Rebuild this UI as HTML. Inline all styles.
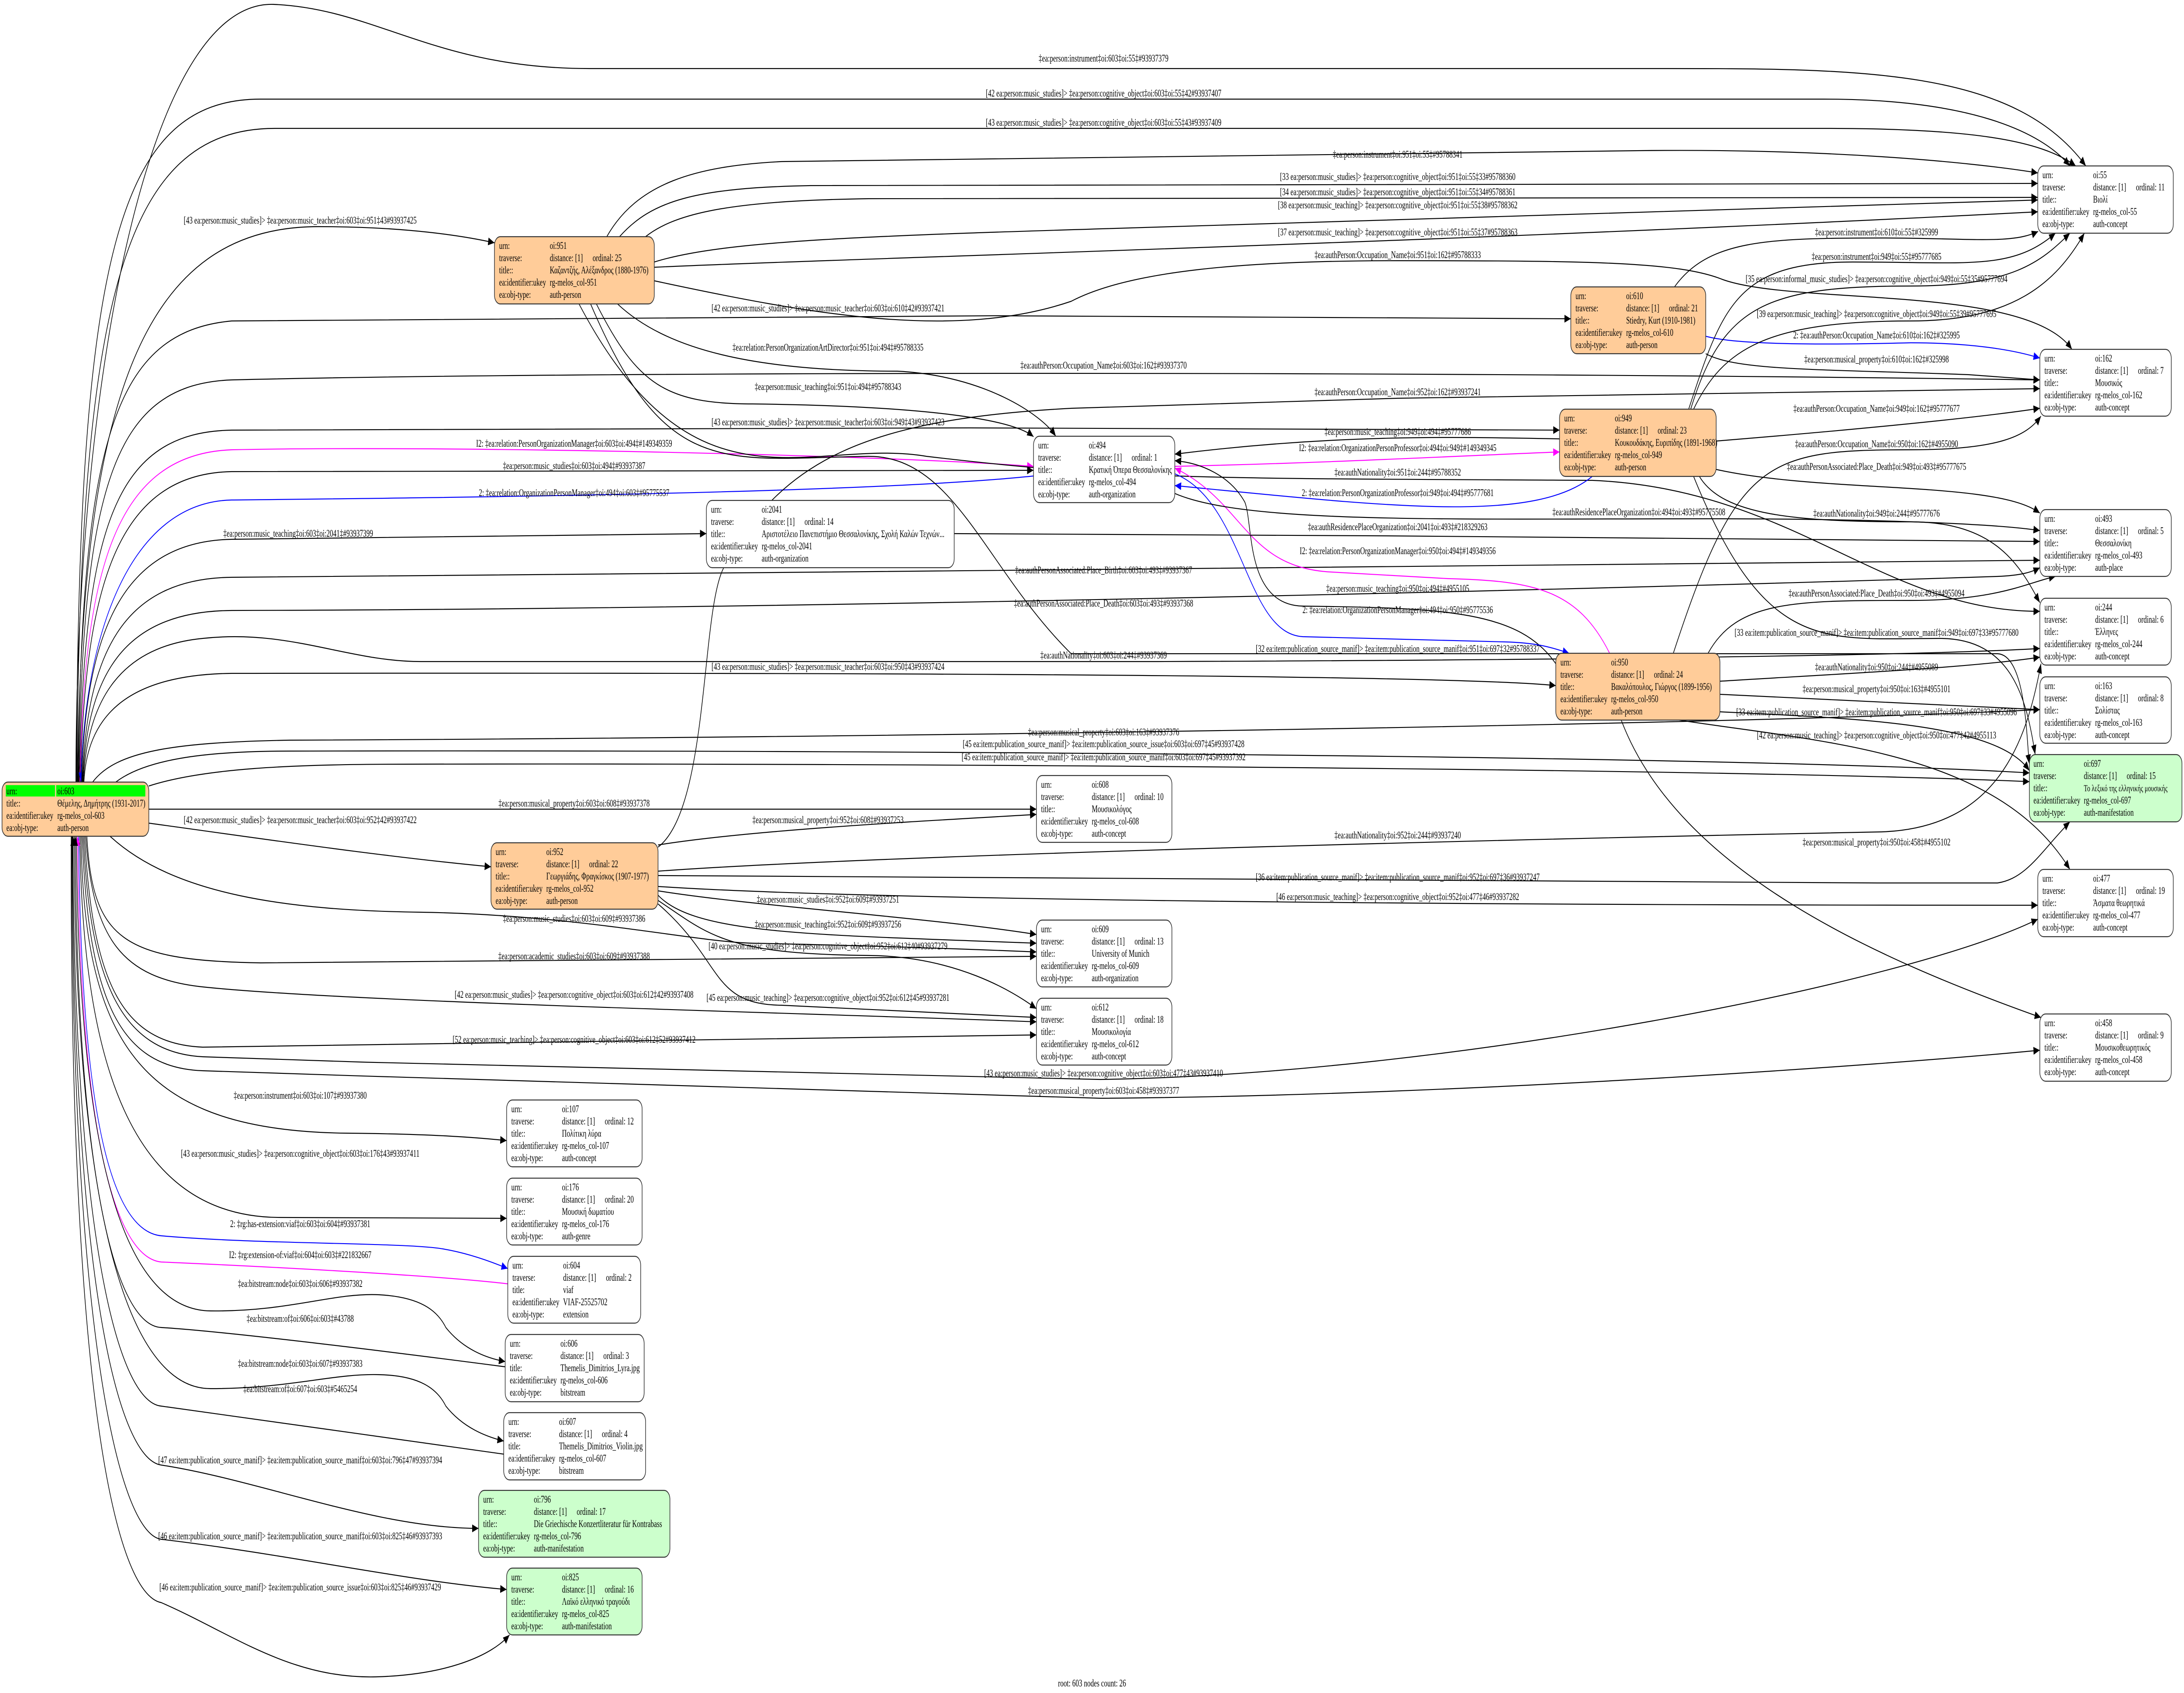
<!DOCTYPE html>
<html><head><meta charset="utf-8">
<style>
html,body{margin:0;padding:0;background:#fff;width:100%;height:100%;overflow:hidden;}
svg{display:block;position:absolute;left:0;top:0;width:100vw;height:100vh;}
text{font-family:"Liberation Serif","DejaVu Serif",serif;font-size:23px;fill:#000;}
.l{text-anchor:middle;}
.e{fill:none;stroke:#000;stroke-width:2.2;marker-end:url(#ab);}
.eb{fill:none;stroke:#0000ff;stroke-width:2.2;marker-end:url(#abl);}
.em{fill:none;stroke:#ff00ff;stroke-width:2.2;marker-end:url(#am);}
.n{stroke:#333;stroke-width:2.2;}
.w{fill:#fff;}.o{fill:#ffcc99;}.g{fill:#ccffcc;}
</style></head><body>
<svg viewBox="0 0 7544 3877" preserveAspectRatio="none" xmlns="http://www.w3.org/2000/svg" overflow="hidden">
<defs>
<marker id="ab" markerUnits="userSpaceOnUse" markerWidth="24" markerHeight="18" refX="22" refY="9" orient="auto"><path d="M0,0 L22,9 L0,18 z" fill="#000"/></marker>
<marker id="abl" markerUnits="userSpaceOnUse" markerWidth="24" markerHeight="18" refX="22" refY="9" orient="auto"><path d="M0,0 L22,9 L0,18 z" fill="#0000ff"/></marker>
<marker id="am" markerUnits="userSpaceOnUse" markerWidth="24" markerHeight="18" refX="22" refY="9" orient="auto"><path d="M0,0 L22,9 L0,18 z" fill="#ff00ff"/></marker>
</defs>
<rect width="7544" height="3877" fill="#fff"/>

<path class="e" d="M262,1791 C262,900 500,0 945,10 C1300,20 1500,157 2036,157 L5661,157 C6400,157 6950,150 7205,380"/>
<text class="l" x="3812" y="141">‡ea:person:instrument‡oi:603‡oi:55‡#93937379</text>
<path class="e" d="M264,1791 C270,600 400,227 900,227 L6300,227 C6800,227 7050,300 7150,380"/>
<text class="l" x="3812" y="221">[42 ea:person:music_studies]&gt; ‡ea:person:cognitive_object‡oi:603‡oi:55‡42#93937407</text>
<path class="e" d="M266,1791 C275,700 420,294 950,294 L6300,294 C6800,294 7050,320 7170,380"/>
<text class="l" x="3812" y="288">[43 ea:person:music_studies]&gt; ‡ea:person:cognitive_object‡oi:603‡oi:55‡43#93937409</text>
<path class="e" d="M268,1791 C280,900 500,519 1100,519 C1400,519 1600,540 1708,556"/>
<text class="l" x="1037" y="512">[43 ea:person:music_studies]&gt; ‡ea:person:music_teacher‡oi:603‡oi:951‡43#93937425</text>
<path class="e" d="M270,1791 C280,1000 400,760 800,735 C2000,720 4000,720 5426,730"/>
<text class="l" x="2860" y="713">[42 ea:person:music_studies]&gt; ‡ea:person:music_teacher‡oi:603‡oi:610‡42#93937421</text>
<path class="e" d="M272,1791 C285,1100 400,880 800,870 C2000,850 5000,850 7046,870"/>
<text class="l" x="3812" y="844">‡ea:authPerson:Occupation_Name‡oi:603‡oi:162‡#93937370</text>
<path class="e" d="M274,1791 C290,1200 400,990 800,985 C2000,978 4000,978 5387,985"/>
<text class="l" x="2860" y="974">[43 ea:person:music_studies]&gt; ‡ea:person:music_teacher‡oi:603‡oi:949‡43#93937423</text>
<path class="em" d="M276,1791 C290,1300 400,1040 800,1030 C1500,1020 3000,1040 3570,1068"/>
<text class="l" x="1983" y="1023">I2: ‡ea:relation:PersonOrganizationManager‡oi:603‡oi:494‡#149349359</text>
<path class="e" d="M278,1791 C292,1350 400,1085 800,1080 L3570,1077"/>
<text class="l" x="1983" y="1074">‡ea:person:music_studies‡oi:603‡oi:494‡#93937387</text>
<path class="eb" d="M3570,1090 C3000,1130 1500,1140 800,1145 C450,1150 290,1450 280,1791"/>
<text class="l" x="1983" y="1136">2: ‡ea:relation:OrganizationPersonManager‡oi:494‡oi:603‡#95775537</text>
<path class="e" d="M282,1791 C295,1450 420,1240 800,1235 C1500,1228 2100,1222 2440,1222"/>
<text class="l" x="1030" y="1229">‡ea:person:music_teaching‡oi:603‡oi:2041‡#93937399</text>
<path class="e" d="M284,1791 C300,1500 420,1325 800,1322 C3000,1310 6000,1290 7046,1283"/>
<text class="l" x="3812" y="1313">‡ea:authPersonAssociated:Place_Birth‡oi:603‡oi:493‡#93937367</text>
<path class="e" d="M286,1791 C300,1550 420,1400 800,1398 C3000,1395 6000,1340 6900,1320 C6980,1318 7020,1310 7046,1300"/>
<text class="l" x="3812" y="1389">‡ea:authPersonAssociated:Place_Death‡oi:603‡oi:493‡#93937368</text>
<path class="e" d="M288,1791 C300,1600 420,1480 700,1462 C1000,1440 1200,1515 1454,1515 L4000,1515 C6000,1510 6800,1495 7046,1485"/>
<text class="l" x="3812" y="1508">‡ea:authNationality‡oi:603‡oi:244‡#93937369</text>
<path class="e" d="M290,1791 C300,1650 420,1545 800,1542 C3000,1540 5000,1545 5374,1570"/>
<text class="l" x="2860" y="1534">[43 ea:person:music_studies]&gt; ‡ea:person:music_teacher‡oi:603‡oi:950‡43#93937424</text>
<path class="e" d="M320,1791 C400,1720 600,1700 1000,1695 C3000,1690 6000,1660 7046,1625"/>
<text class="l" x="3812" y="1684">‡ea:person:musical_property‡oi:603‡oi:163‡#93937376</text>
<path class="e" d="M400,1791 C500,1740 700,1720 1000,1720 C3000,1717 6000,1730 7010,1770"/>
<text class="l" x="3812" y="1711">[45 ea:item:publication_source_manif]&gt; ‡ea:item:publication_source_issue‡oi:603‡oi:697‡45#93937428</text>
<path class="e" d="M514,1800 C700,1760 1000,1750 1400,1750 C3000,1747 6000,1760 7010,1790"/>
<text class="l" x="3812" y="1741">[45 ea:item:publication_source_manif]&gt; ‡ea:item:publication_source_manif‡oi:603‡oi:697‡45#93937392</text>
<path class="e" d="M514,1853 L3580,1853"/>
<text class="l" x="1983" y="1847">‡ea:person:musical_property‡oi:603‡oi:608‡#93937378</text>
<path class="e" d="M514,1885 C900,1920 1300,1960 1696,1985"/>
<text class="l" x="1037" y="1885">[42 ea:person:music_studies]&gt; ‡ea:person:music_teacher‡oi:603‡oi:952‡42#93937422</text>
<path class="e" d="M380,1915 C600,2050 1000,2085 1454,2089 C2000,2095 2400,2157 2600,2160 C3000,2165 3400,2175 3580,2180"/>
<text class="l" x="1983" y="2111">‡ea:person:music_studies‡oi:603‡oi:609‡#93937386</text>
<path class="e" d="M300,1915 C320,2150 420,2200 900,2205 L3580,2190"/>
<text class="l" x="1983" y="2197">‡ea:person:academic_studies‡oi:603‡oi:609‡#93937388</text>
<path class="e" d="M296,1915 C320,2150 420,2240 700,2260 C1200,2295 2800,2320 3580,2340"/>
<text class="l" x="1983" y="2285">[42 ea:person:music_studies]&gt; ‡ea:person:cognitive_object‡oi:603‡oi:612‡42#93937408</text>
<path class="e" d="M292,1915 C320,2250 420,2390 700,2398 L3580,2370"/>
<text class="l" x="1983" y="2388">[52 ea:person:music_teaching]&gt; ‡ea:person:cognitive_object‡oi:603‡oi:612‡52#93937412</text>
<path class="e" d="M288,1915 C310,2250 420,2410 700,2420 C2000,2450 3500,2475 3800,2472 C5000,2460 6600,2250 7039,2105"/>
<text class="l" x="3812" y="2465">[43 ea:person:music_studies]&gt; ‡ea:person:cognitive_object‡oi:603‡oi:477‡43#93937410</text>
<path class="e" d="M284,1915 C305,2300 420,2445 700,2452 C2000,2480 3500,2515 3800,2515 C5000,2510 6500,2440 7046,2405"/>
<text class="l" x="3812" y="2505">‡ea:person:musical_property‡oi:603‡oi:458‡#93937377</text>
<path class="e" d="M280,1915 C290,2400 500,2590 1200,2595 C1500,2597 1650,2605 1750,2612"/>
<text class="l" x="1037" y="2516">‡ea:person:instrument‡oi:603‡oi:107‡#93937380</text>
<path class="e" d="M276,1915 C285,2500 500,2788 969,2788 L1750,2790"/>
<text class="l" x="1037" y="2649">[43 ea:person:music_studies]&gt; ‡ea:person:cognitive_object‡oi:603‡oi:176‡43#93937411</text>
<path class="eb" d="M272,1915 C280,2600 400,2820 557,2830 C900,2850 1400,2845 1530,2860 C1620,2870 1700,2890 1754,2905"/>
<text class="l" x="1037" y="2810">2: ‡rg:has-extension:viaf‡oi:603‡oi:604‡#93937381</text>
<path class="em" d="M1754,2940 C1500,2920 900,2900 557,2890 C400,2880 275,2600 268,1915"/>
<text class="l" x="1037" y="2881">I2: ‡rg:extension-of:viaf‡oi:604‡oi:603‡#221832667</text>
<path class="e" d="M264,1915 C270,2700 450,3000 727,3002 C1000,3004 1150,2960 1309,2965 C1450,2970 1510,3000 1540,3040 C1600,3090 1680,3110 1745,3118"/>
<text class="l" x="1037" y="2947">‡ea:bitstream:node‡oi:603‡oi:606‡#93937382</text>
<path class="e" d="M1745,3130 C1400,3100 800,3050 557,3040 C400,3035 265,2700 260,1915"/>
<text class="l" x="1037" y="3027">‡ea:bitstream:of‡oi:606‡oi:603‡#43788</text>
<path class="e" d="M256,1915 C260,2800 450,3180 727,3180 C1000,3180 1150,3145 1309,3148 C1450,3150 1510,3180 1540,3220 C1600,3270 1680,3290 1740,3300"/>
<text class="l" x="1037" y="3130">‡ea:bitstream:node‡oi:603‡oi:607‡#93937383</text>
<path class="e" d="M1740,3330 C1400,3300 800,3240 557,3220 C400,3210 255,2800 252,1915"/>
<text class="l" x="1037" y="3188">‡ea:bitstream:of‡oi:607‡oi:603‡#5465254</text>
<path class="e" d="M250,1915 C250,2900 400,3340 557,3355 C900,3390 1300,3500 1653,3500"/>
<text class="l" x="1037" y="3351">[47 ea:item:publication_source_manif]&gt; ‡ea:item:publication_source_manif‡oi:603‡oi:796‡47#93937394</text>
<path class="e" d="M248,1915 C245,3000 400,3510 557,3525 C1000,3560 1400,3620 1750,3640"/>
<text class="l" x="1037" y="3525">[46 ea:item:publication_source_manif]&gt; ‡ea:item:publication_source_manif‡oi:603‡oi:825‡46#93937393</text>
<path class="e" d="M246,1915 C240,3200 400,3650 557,3670 C800,3740 1000,3845 1300,3840 C1550,3835 1700,3790 1760,3744"/>
<text class="l" x="1037" y="3642">[46 ea:item:publication_source_manif]&gt; ‡ea:item:publication_source_issue‡oi:603‡oi:825‡46#93937429</text>

<path class="e" d="M2096,542 C2200,420 2400,380 2700,370 C3500,355 4500,360 5661,345 C6300,340 6800,370 7039,396"/>
<text class="l" x="4828" y="361">‡ea:person:instrument‡oi:951‡oi:55‡#95788341</text>
<path class="e" d="M2140,542 C2250,460 2400,430 2800,425 L7039,420"/>
<text class="l" x="4828" y="412">[33 ea:person:music_studies]&gt; ‡ea:person:cognitive_object‡oi:951‡oi:55‡33#95788360</text>
<path class="e" d="M2200,560 C2300,490 2500,460 3000,455 L7039,452"/>
<text class="l" x="4828" y="447">[34 ea:person:music_studies]&gt; ‡ea:person:cognitive_object‡oi:951‡oi:55‡34#95788361</text>
<path class="e" d="M2260,600 C2500,550 3000,540 4000,520 C5500,495 6500,470 7039,458"/>
<text class="l" x="4828" y="477">[38 ea:person:music_teaching]&gt; ‡ea:person:cognitive_object‡oi:951‡oi:55‡38#95788362</text>
<path class="e" d="M2260,612 C3000,590 5000,555 7039,485"/>
<text class="l" x="4828" y="539">[37 ea:person:music_teaching]&gt; ‡ea:person:cognitive_object‡oi:951‡oi:55‡37#95788363</text>
<path class="e" d="M2260,643 C2800,720 3300,780 3700,690 C3900,620 4300,597 4828,597 C5500,597 5800,600 5950,640 C6200,700 7000,650 7157,800"/>
<text class="l" x="4828" y="591">‡ea:authPerson:Occupation_Name‡oi:951‡oi:162‡#95788333</text>
<path class="e" d="M2133,696 C2300,800 2600,850 3100,850 C3400,860 3600,950 3647,999"/>
<text class="l" x="2860" y="803">‡ea:relation:PersonOrganizationArtDirector‡oi:951‡oi:494‡#95788335</text>
<path class="e" d="M2060,696 C2200,880 2300,925 2600,925 C3200,930 3500,960 3570,1000"/>
<text class="l" x="2860" y="893">‡ea:person:music_teaching‡oi:951‡oi:494‡#95788343</text>
<path class="e" d="M2040,696 C2300,1100 2500,1050 3000,1045 C3300,1045 3400,1300 3700,1497 L6900,1497 C7000,1500 7000,1700 7010,1750"/>
<text class="l" x="4828" y="1493">[32 ea:item:publication_source_manif]&gt; ‡ea:item:publication_source_manif‡oi:951‡oi:697‡32#95788337</text>
<path class="e" d="M2000,696 C2400,1200 2800,1000 3200,1045 C3900,1100 4200,1095 5500,1100 C6200,1120 6500,1400 7046,1400"/>
<text class="l" x="4828" y="1089">‡ea:authNationality‡oi:951‡oi:244‡#95788352</text>

<path class="e" d="M5784,657 C5900,550 6100,545 6500,545 C6800,545 6950,560 7040,530"/>
<text class="l" x="6482" y="539">‡ea:person:instrument‡oi:610‡oi:55‡#325999</text>
<path class="eb" d="M5892,770 C6000,790 6300,790 6600,785 C6800,785 6950,800 7046,820"/>
<text class="l" x="6482" y="775">2: ‡ea:authPerson:Occupation_Name‡oi:610‡oi:162‡#325995</text>
<path class="e" d="M5892,810 C6000,850 6300,845 6800,858 L7046,870"/>
<text class="l" x="6482" y="830">‡ea:person:musical_property‡oi:610‡oi:162‡#325998</text>

<path class="e" d="M5833,937 C5950,700 6000,600 6400,600 C6800,600 6950,620 7100,534"/>
<text class="l" x="6482" y="595">‡ea:person:instrument‡oi:949‡oi:55‡#95777685</text>
<path class="e" d="M5840,937 C5950,700 6100,655 6600,655 C6950,655 7050,600 7150,534"/>
<text class="l" x="6482" y="646">[35 ea:person:informal_music_studies]&gt; ‡ea:person:cognitive_object‡oi:949‡oi:55‡35#95777694</text>
<path class="e" d="M5850,937 C5950,800 6100,735 6600,735 C6950,735 7100,650 7200,534"/>
<text class="l" x="6482" y="726">[39 ea:person:music_teaching]&gt; ‡ea:person:cognitive_object‡oi:949‡oi:55‡39#95777695</text>
<path class="e" d="M5387,1005 C5000,1000 4600,995 4058,1040"/>
<text class="l" x="4828" y="996">‡ea:person:music_teaching‡oi:949‡oi:494‡#95777686</text>
<path class="em" d="M4058,1068 C4600,1060 5000,1045 5387,1035"/>
<text class="l" x="4828" y="1033">I2: ‡ea:relation:OrganizationPersonProfessor‡oi:494‡oi:949‡#149349345</text>
<path class="eb" d="M5500,1091 C5300,1200 4800,1160 4058,1112"/>
<text class="l" x="4828" y="1136">2: ‡ea:relation:PersonOrganizationProfessor‡oi:949‡oi:494‡#95777681</text>
<path class="e" d="M5928,1010 C6300,990 6800,960 7046,935"/>
<text class="l" x="6482" y="943">‡ea:authPerson:Occupation_Name‡oi:949‡oi:162‡#95777677</text>
<path class="e" d="M5928,1075 C6300,1130 6900,1100 7046,1175"/>
<text class="l" x="6482" y="1076">‡ea:authPersonAssociated:Place_Death‡oi:949‡oi:493‡#95777675</text>
<path class="e" d="M5870,1091 C5950,1180 6200,1195 6600,1195 C6900,1195 6980,1300 7046,1380"/>
<text class="l" x="6482" y="1183">‡ea:authNationality‡oi:949‡oi:244‡#95777676</text>
<path class="e" d="M5850,1091 C6100,1500 6300,1462 6700,1462 C6950,1462 7000,1600 7030,1728"/>
<text class="l" x="6482" y="1456">[33 ea:item:publication_source_manif]&gt; ‡ea:item:publication_source_manif‡oi:949‡oi:697‡33#95777680</text>

<path class="e" d="M5780,1496 C6000,1050 6100,1030 6600,1030 C6900,1030 7000,1000 7050,953"/>
<text class="l" x="6482" y="1024">‡ea:authPerson:Occupation_Name‡oi:950‡oi:162‡#4955090</text>
<path class="e" d="M5900,1496 C6000,1375 6200,1375 6600,1375 C6900,1375 7000,1335 7100,1320"/>
<text class="l" x="6482" y="1366">‡ea:authPersonAssociated:Place_Death‡oi:950‡oi:493‡#4955094</text>
<path class="e" d="M5941,1560 C6300,1545 6800,1530 7046,1505"/>
<text class="l" x="6482" y="1535">‡ea:authNationality‡oi:950‡oi:244‡#4955089</text>
<path class="e" d="M5941,1590 C6300,1600 6800,1620 7046,1625"/>
<text class="l" x="6482" y="1585">‡ea:person:musical_property‡oi:950‡oi:163‡#4955101</text>
<path class="e" d="M5941,1630 C6400,1645 6900,1655 7010,1765"/>
<text class="l" x="6482" y="1638">[33 ea:item:publication_source_manif]&gt; ‡ea:item:publication_source_manif‡oi:950‡oi:697‡33#4955096</text>
<path class="e" d="M5800,1649 C6300,1700 6900,1720 7150,1991"/>
<text class="l" x="6482" y="1691">[42 ea:person:music_teaching]&gt; ‡ea:person:cognitive_object‡oi:950‡oi:477‡42#4955113</text>
<path class="e" d="M5600,1649 C5800,2000 6500,2200 7050,2330"/>
<text class="l" x="6482" y="1936">‡ea:person:musical_property‡oi:950‡oi:458‡#4955102</text>
<path class="e" d="M5374,1520 C5250,1400 5000,1392 4500,1388 C4300,1385 4330,1200 4300,1150 C4250,1090 4150,1060 4058,1055"/>
<text class="l" x="4828" y="1355">‡ea:person:music_teaching‡oi:950‡oi:494‡#4955105</text>
<path class="eb" d="M4058,1085 C4300,1150 4300,1450 4500,1458 L5200,1470 C5300,1472 5350,1480 5420,1496"/>
<text class="l" x="4828" y="1404">2: ‡ea:relation:OrganizationPersonManager‡oi:494‡oi:950‡#95775536</text>
<path class="em" d="M5560,1496 C5450,1350 5300,1330 5000,1325 L4600,1310 C4300,1300 4300,1150 4058,1072"/>
<text class="l" x="4828" y="1269">I2: ‡ea:relation:PersonOrganizationManager‡oi:950‡oi:494‡#149349356</text>

<path class="e" d="M4058,1130 C4300,1200 5000,1188 5900,1188 C6500,1188 6900,1200 7046,1215"/>
<text class="l" x="5661" y="1180">‡ea:authResidencePlaceOrganization‡oi:494‡oi:493‡#95775508</text>
<path class="e" d="M3296,1222 C4500,1225 6000,1232 7046,1240"/>
<text class="l" x="4828" y="1214">‡ea:authResidencePlaceOrganization‡oi:2041‡oi:493‡#218329263</text>

<path class="e" d="M2273,1935 C2600,1900 3200,1880 3580,1865"/>
<text class="l" x="2860" y="1885">‡ea:person:musical_property‡oi:952‡oi:608‡#93937253</text>
<path class="e" d="M2273,1940 C2450,1850 2420,1400 2500,1300 C2700,1050 3000,960 3700,935 L4828,912 C6000,900 6800,890 7046,890"/>
<text class="l" x="4828" y="905">‡ea:authPerson:Occupation_Name‡oi:952‡oi:162‡#93937241</text>
<path class="e" d="M2273,1995 C3000,1960 5000,1925 6500,1905 C6900,1895 7000,1700 7050,1520"/>
<text class="l" x="4828" y="1920">‡ea:authNationality‡oi:952‡oi:244‡#93937240</text>
<path class="e" d="M2273,2005 C3000,2022 5000,2022 6900,2022 C7000,2012 7050,1950 7150,1882"/>
<text class="l" x="4828" y="2016">[36 ea:item:publication_source_manif]&gt; ‡ea:item:publication_source_manif‡oi:952‡oi:697‡36#93937247</text>
<path class="e" d="M2273,2030 C3000,2062 5000,2073 7039,2073"/>
<text class="l" x="4828" y="2061">[46 ea:person:music_teaching]&gt; ‡ea:person:cognitive_object‡oi:952‡oi:477‡46#93937282</text>
<path class="e" d="M2273,2040 C2600,2075 3200,2100 3580,2140"/>
<text class="l" x="2860" y="2067">‡ea:person:music_studies‡oi:952‡oi:609‡#93937251</text>
<path class="e" d="M2273,2050 C2400,2140 2800,2140 3580,2160"/>
<text class="l" x="2860" y="2124">‡ea:person:music_teaching‡oi:952‡oi:609‡#93937256</text>
<path class="e" d="M2273,2062 C2450,2140 2500,2185 3000,2188 C3300,2190 3500,2270 3580,2310"/>
<text class="l" x="2860" y="2174">[40 ea:person:music_studies]&gt; ‡ea:person:cognitive_object‡oi:952‡oi:612‡40#93937279</text>
<path class="e" d="M2273,2070 C2500,2200 2450,2300 2700,2302 L3580,2330"/>
<text class="l" x="2860" y="2292">[45 ea:person:music_teaching]&gt; ‡ea:person:cognitive_object‡oi:952‡oi:612‡45#93937281</text>

<rect class="n o" x="7" y="1791" width="507" height="124" rx="20"/>
<rect x="20" y="1798" width="170" height="26" fill="#00ff00"/>
<rect x="194" y="1798" width="308" height="26" fill="#00ff00"/>
<text x="22" y="1819">urn:</text><text x="198" y="1819">oi:603</text>
<text x="22" y="1847">title::</text><text x="198" y="1847">Θέμελης, Δημήτρης (1931-2017)</text>
<text x="22" y="1875">ea:identifier:ukey</text><text x="198" y="1875">rg-melos_col-603</text>
<text x="22" y="1903">ea:obj-type:</text><text x="198" y="1903">auth-person</text>

<rect class="n o" x="1708" y="542" width="552" height="154" rx="20"/>
<text x="1724" y="570">urn:</text><text x="1899" y="570">oi:951</text>
<text x="1724" y="598">traverse:</text><text x="1899" y="598">distance: [1]</text><text x="2047" y="598">ordinal: 25</text>
<text x="1724" y="626">title::</text><text x="1899" y="626">Καζαντζής, Αλέξανδρος (1880-1976)</text>
<text x="1724" y="654">ea:identifier:ukey</text><text x="1899" y="654">rg-melos_col-951</text>
<text x="1724" y="682">ea:obj-type:</text><text x="1899" y="682">auth-person</text>

<rect class="n w" x="7039" y="380" width="468" height="154" rx="20"/>
<text x="7055" y="408">urn:</text><text x="7230" y="408">oi:55</text>
<text x="7055" y="436">traverse:</text><text x="7230" y="436">distance: [1]</text><text x="7378" y="436">ordinal: 11</text>
<text x="7055" y="464">title::</text><text x="7230" y="464">Βιολί</text>
<text x="7055" y="492">ea:identifier:ukey</text><text x="7230" y="492">rg-melos_col-55</text>
<text x="7055" y="520">ea:obj-type:</text><text x="7230" y="520">auth-concept</text>

<rect class="n o" x="5426" y="657" width="466" height="153" rx="20"/>
<text x="5442" y="685">urn:</text><text x="5617" y="685">oi:610</text>
<text x="5442" y="713">traverse:</text><text x="5617" y="713">distance: [1]</text><text x="5765" y="713">ordinal: 21</text>
<text x="5442" y="741">title::</text><text x="5617" y="741">Stiedry, Kurt (1910-1981)</text>
<text x="5442" y="769">ea:identifier:ukey</text><text x="5617" y="769">rg-melos_col-610</text>
<text x="5442" y="797">ea:obj-type:</text><text x="5617" y="797">auth-person</text>

<rect class="n w" x="7046" y="800" width="454" height="153" rx="20"/>
<text x="7062" y="828">urn:</text><text x="7237" y="828">oi:162</text>
<text x="7062" y="856">traverse:</text><text x="7237" y="856">distance: [1]</text><text x="7385" y="856">ordinal: 7</text>
<text x="7062" y="884">title::</text><text x="7237" y="884">Μουσικός</text>
<text x="7062" y="912">ea:identifier:ukey</text><text x="7237" y="912">rg-melos_col-162</text>
<text x="7062" y="940">ea:obj-type:</text><text x="7237" y="940">auth-concept</text>

<rect class="n w" x="3570" y="999" width="488" height="152" rx="20"/>
<text x="3586" y="1027">urn:</text><text x="3761" y="1027">oi:494</text>
<text x="3586" y="1055">traverse:</text><text x="3761" y="1055">distance: [1]</text><text x="3909" y="1055">ordinal: 1</text>
<text x="3586" y="1083">title::</text><text x="3761" y="1083">Κρατική Όπερα Θεσσαλονίκης</text>
<text x="3586" y="1111">ea:identifier:ukey</text><text x="3761" y="1111">rg-melos_col-494</text>
<text x="3586" y="1139">ea:obj-type:</text><text x="3761" y="1139">auth-organization</text>

<rect class="n o" x="5387" y="937" width="541" height="154" rx="20"/>
<text x="5403" y="965">urn:</text><text x="5578" y="965">oi:949</text>
<text x="5403" y="993">traverse:</text><text x="5578" y="993">distance: [1]</text><text x="5726" y="993">ordinal: 23</text>
<text x="5403" y="1021">title::</text><text x="5578" y="1021">Κουκουδάκης, Ευριπίδης (1891-1968)</text>
<text x="5403" y="1049">ea:identifier:ukey</text><text x="5578" y="1049">rg-melos_col-949</text>
<text x="5403" y="1077">ea:obj-type:</text><text x="5578" y="1077">auth-person</text>

<rect class="n w" x="2440" y="1146" width="856" height="154" rx="20"/>
<text x="2456" y="1174">urn:</text><text x="2631" y="1174">oi:2041</text>
<text x="2456" y="1202">traverse:</text><text x="2631" y="1202">distance: [1]</text><text x="2779" y="1202">ordinal: 14</text>
<text x="2456" y="1230">title::</text><text x="2631" y="1230">Αριστοτέλειο Πανεπιστήμιο Θεσσαλονίκης, Σχολή Καλών Τεχνών...</text>
<text x="2456" y="1258">ea:identifier:ukey</text><text x="2631" y="1258">rg-melos_col-2041</text>
<text x="2456" y="1286">ea:obj-type:</text><text x="2631" y="1286">auth-organization</text>

<rect class="n w" x="7046" y="1167" width="454" height="153" rx="20"/>
<text x="7062" y="1195">urn:</text><text x="7237" y="1195">oi:493</text>
<text x="7062" y="1223">traverse:</text><text x="7237" y="1223">distance: [1]</text><text x="7385" y="1223">ordinal: 5</text>
<text x="7062" y="1251">title::</text><text x="7237" y="1251">Θεσσαλονίκη</text>
<text x="7062" y="1279">ea:identifier:ukey</text><text x="7237" y="1279">rg-melos_col-493</text>
<text x="7062" y="1307">ea:obj-type:</text><text x="7237" y="1307">auth-place</text>

<rect class="n w" x="7046" y="1370" width="454" height="153" rx="20"/>
<text x="7062" y="1398">urn:</text><text x="7237" y="1398">oi:244</text>
<text x="7062" y="1426">traverse:</text><text x="7237" y="1426">distance: [1]</text><text x="7385" y="1426">ordinal: 6</text>
<text x="7062" y="1454">title::</text><text x="7237" y="1454">Έλληνες</text>
<text x="7062" y="1482">ea:identifier:ukey</text><text x="7237" y="1482">rg-melos_col-244</text>
<text x="7062" y="1510">ea:obj-type:</text><text x="7237" y="1510">auth-concept</text>

<rect class="n o" x="5374" y="1496" width="567" height="153" rx="20"/>
<text x="5390" y="1524">urn:</text><text x="5565" y="1524">oi:950</text>
<text x="5390" y="1552">traverse:</text><text x="5565" y="1552">distance: [1]</text><text x="5713" y="1552">ordinal: 24</text>
<text x="5390" y="1580">title::</text><text x="5565" y="1580">Βακαλόπουλος, Γιώργος (1899-1956)</text>
<text x="5390" y="1608">ea:identifier:ukey</text><text x="5565" y="1608">rg-melos_col-950</text>
<text x="5390" y="1636">ea:obj-type:</text><text x="5565" y="1636">auth-person</text>

<rect class="n w" x="7046" y="1550" width="454" height="152" rx="20"/>
<text x="7062" y="1578">urn:</text><text x="7237" y="1578">oi:163</text>
<text x="7062" y="1606">traverse:</text><text x="7237" y="1606">distance: [1]</text><text x="7385" y="1606">ordinal: 8</text>
<text x="7062" y="1634">title::</text><text x="7237" y="1634">Σολίστας</text>
<text x="7062" y="1662">ea:identifier:ukey</text><text x="7237" y="1662">rg-melos_col-163</text>
<text x="7062" y="1690">ea:obj-type:</text><text x="7237" y="1690">auth-concept</text>

<rect class="n g" x="7010" y="1728" width="527" height="154" rx="20"/>
<text x="7024" y="1756">urn:</text><text x="7198" y="1756">oi:697</text>
<text x="7024" y="1784">traverse:</text><text x="7198" y="1784">distance: [1]</text><text x="7346" y="1784">ordinal: 15</text>
<text x="7024" y="1812">title::</text><text x="7198" y="1812" style="font-size:21px">Το λεξικό της ελληνικής μουσικής</text>
<text x="7024" y="1840">ea:identifier:ukey</text><text x="7198" y="1840">rg-melos_col-697</text>
<text x="7024" y="1868">ea:obj-type:</text><text x="7198" y="1868">auth-manifestation</text>

<rect class="n o" x="1696" y="1930" width="577" height="152" rx="20"/>
<text x="1712" y="1958">urn:</text><text x="1887" y="1958">oi:952</text>
<text x="1712" y="1986">traverse:</text><text x="1887" y="1986">distance: [1]</text><text x="2035" y="1986">ordinal: 22</text>
<text x="1712" y="2014">title::</text><text x="1887" y="2014">Γεωργιάδης, Φραγκίσκος (1907-1977)</text>
<text x="1712" y="2042">ea:identifier:ukey</text><text x="1887" y="2042">rg-melos_col-952</text>
<text x="1712" y="2070">ea:obj-type:</text><text x="1887" y="2070">auth-person</text>

<rect class="n w" x="3580" y="1776" width="468" height="153" rx="20"/>
<text x="3596" y="1804">urn:</text><text x="3771" y="1804">oi:608</text>
<text x="3596" y="1832">traverse:</text><text x="3771" y="1832">distance: [1]</text><text x="3919" y="1832">ordinal: 10</text>
<text x="3596" y="1860">title::</text><text x="3771" y="1860">Μουσικολόγος</text>
<text x="3596" y="1888">ea:identifier:ukey</text><text x="3771" y="1888">rg-melos_col-608</text>
<text x="3596" y="1916">ea:obj-type:</text><text x="3771" y="1916">auth-concept</text>

<rect class="n w" x="3580" y="2107" width="468" height="153" rx="20"/>
<text x="3596" y="2135">urn:</text><text x="3771" y="2135">oi:609</text>
<text x="3596" y="2163">traverse:</text><text x="3771" y="2163">distance: [1]</text><text x="3919" y="2163">ordinal: 13</text>
<text x="3596" y="2191">title::</text><text x="3771" y="2191">University of Munich</text>
<text x="3596" y="2219">ea:identifier:ukey</text><text x="3771" y="2219">rg-melos_col-609</text>
<text x="3596" y="2247">ea:obj-type:</text><text x="3771" y="2247">auth-organization</text>

<rect class="n w" x="3580" y="2286" width="468" height="153" rx="20"/>
<text x="3596" y="2314">urn:</text><text x="3771" y="2314">oi:612</text>
<text x="3596" y="2342">traverse:</text><text x="3771" y="2342">distance: [1]</text><text x="3919" y="2342">ordinal: 18</text>
<text x="3596" y="2370">title::</text><text x="3771" y="2370">Μουσικολογία</text>
<text x="3596" y="2398">ea:identifier:ukey</text><text x="3771" y="2398">rg-melos_col-612</text>
<text x="3596" y="2426">ea:obj-type:</text><text x="3771" y="2426">auth-concept</text>

<rect class="n w" x="7039" y="1991" width="468" height="154" rx="20"/>
<text x="7055" y="2019">urn:</text><text x="7230" y="2019">oi:477</text>
<text x="7055" y="2047">traverse:</text><text x="7230" y="2047">distance: [1]</text><text x="7378" y="2047">ordinal: 19</text>
<text x="7055" y="2075">title::</text><text x="7230" y="2075">Άσματα θεωρητικά</text>
<text x="7055" y="2103">ea:identifier:ukey</text><text x="7230" y="2103">rg-melos_col-477</text>
<text x="7055" y="2131">ea:obj-type:</text><text x="7230" y="2131">auth-concept</text>

<rect class="n w" x="7046" y="2322" width="454" height="154" rx="20"/>
<text x="7062" y="2350">urn:</text><text x="7237" y="2350">oi:458</text>
<text x="7062" y="2378">traverse:</text><text x="7237" y="2378">distance: [1]</text><text x="7385" y="2378">ordinal: 9</text>
<text x="7062" y="2406">title::</text><text x="7237" y="2406">Μουσικοθεωρητικός</text>
<text x="7062" y="2434">ea:identifier:ukey</text><text x="7237" y="2434">rg-melos_col-458</text>
<text x="7062" y="2462">ea:obj-type:</text><text x="7237" y="2462">auth-concept</text>

<rect class="n w" x="1750" y="2519" width="468" height="153" rx="20"/>
<text x="1766" y="2547">urn:</text><text x="1941" y="2547">oi:107</text>
<text x="1766" y="2575">traverse:</text><text x="1941" y="2575">distance: [1]</text><text x="2089" y="2575">ordinal: 12</text>
<text x="1766" y="2603">title::</text><text x="1941" y="2603">Πολίτικη λύρα</text>
<text x="1766" y="2631">ea:identifier:ukey</text><text x="1941" y="2631">rg-melos_col-107</text>
<text x="1766" y="2659">ea:obj-type:</text><text x="1941" y="2659">auth-concept</text>

<rect class="n w" x="1750" y="2698" width="468" height="153" rx="20"/>
<text x="1766" y="2726">urn:</text><text x="1941" y="2726">oi:176</text>
<text x="1766" y="2754">traverse:</text><text x="1941" y="2754">distance: [1]</text><text x="2089" y="2754">ordinal: 20</text>
<text x="1766" y="2782">title::</text><text x="1941" y="2782">Μουσική δωματίου</text>
<text x="1766" y="2810">ea:identifier:ukey</text><text x="1941" y="2810">rg-melos_col-176</text>
<text x="1766" y="2838">ea:obj-type:</text><text x="1941" y="2838">auth-genre</text>

<rect class="n w" x="1754" y="2877" width="459" height="153" rx="20"/>
<text x="1770" y="2905">urn:</text><text x="1945" y="2905">oi:604</text>
<text x="1770" y="2933">traverse:</text><text x="1945" y="2933">distance: [1]</text><text x="2093" y="2933">ordinal: 2</text>
<text x="1770" y="2961">title:</text><text x="1945" y="2961">viaf</text>
<text x="1770" y="2989">ea:identifier:ukey</text><text x="1945" y="2989">VIAF-25525702</text>
<text x="1770" y="3017">ea:obj-type:</text><text x="1945" y="3017">extension</text>

<rect class="n w" x="1745" y="3056" width="480" height="154" rx="20"/>
<text x="1761" y="3084">urn:</text><text x="1936" y="3084">oi:606</text>
<text x="1761" y="3112">traverse:</text><text x="1936" y="3112">distance: [1]</text><text x="2084" y="3112">ordinal: 3</text>
<text x="1761" y="3140">title:</text><text x="1936" y="3140">Themelis_Dimitrios_Lyra.jpg</text>
<text x="1761" y="3168">ea:identifier:ukey</text><text x="1936" y="3168">rg-melos_col-606</text>
<text x="1761" y="3196">ea:obj-type:</text><text x="1936" y="3196">bitstream</text>

<rect class="n w" x="1740" y="3235" width="490" height="154" rx="20"/>
<text x="1756" y="3263">urn:</text><text x="1931" y="3263">oi:607</text>
<text x="1756" y="3291">traverse:</text><text x="1931" y="3291">distance: [1]</text><text x="2079" y="3291">ordinal: 4</text>
<text x="1756" y="3319">title:</text><text x="1931" y="3319">Themelis_Dimitrios_Violin.jpg</text>
<text x="1756" y="3347">ea:identifier:ukey</text><text x="1931" y="3347">rg-melos_col-607</text>
<text x="1756" y="3375">ea:obj-type:</text><text x="1931" y="3375">bitstream</text>

<rect class="n g" x="1653" y="3413" width="661" height="153" rx="20"/>
<text x="1669" y="3441">urn:</text><text x="1844" y="3441">oi:796</text>
<text x="1669" y="3469">traverse:</text><text x="1844" y="3469">distance: [1]</text><text x="1992" y="3469">ordinal: 17</text>
<text x="1669" y="3497">title::</text><text x="1844" y="3497">Die Griechische Konzertliteratur für Kontrabass</text>
<text x="1669" y="3525">ea:identifier:ukey</text><text x="1844" y="3525">rg-melos_col-796</text>
<text x="1669" y="3553">ea:obj-type:</text><text x="1844" y="3553">auth-manifestation</text>

<rect class="n g" x="1750" y="3591" width="468" height="153" rx="20"/>
<text x="1766" y="3619">urn:</text><text x="1941" y="3619">oi:825</text>
<text x="1766" y="3647">traverse:</text><text x="1941" y="3647">distance: [1]</text><text x="2089" y="3647">ordinal: 16</text>
<text x="1766" y="3675">title::</text><text x="1941" y="3675">Λαϊκό ελληνικό τραγούδι</text>
<text x="1766" y="3703">ea:identifier:ukey</text><text x="1941" y="3703">rg-melos_col-825</text>
<text x="1766" y="3731">ea:obj-type:</text><text x="1941" y="3731">auth-manifestation</text>

<text class="l" x="3772" y="3862">root: 603 nodes count: 26</text>
</svg>
</body></html>
